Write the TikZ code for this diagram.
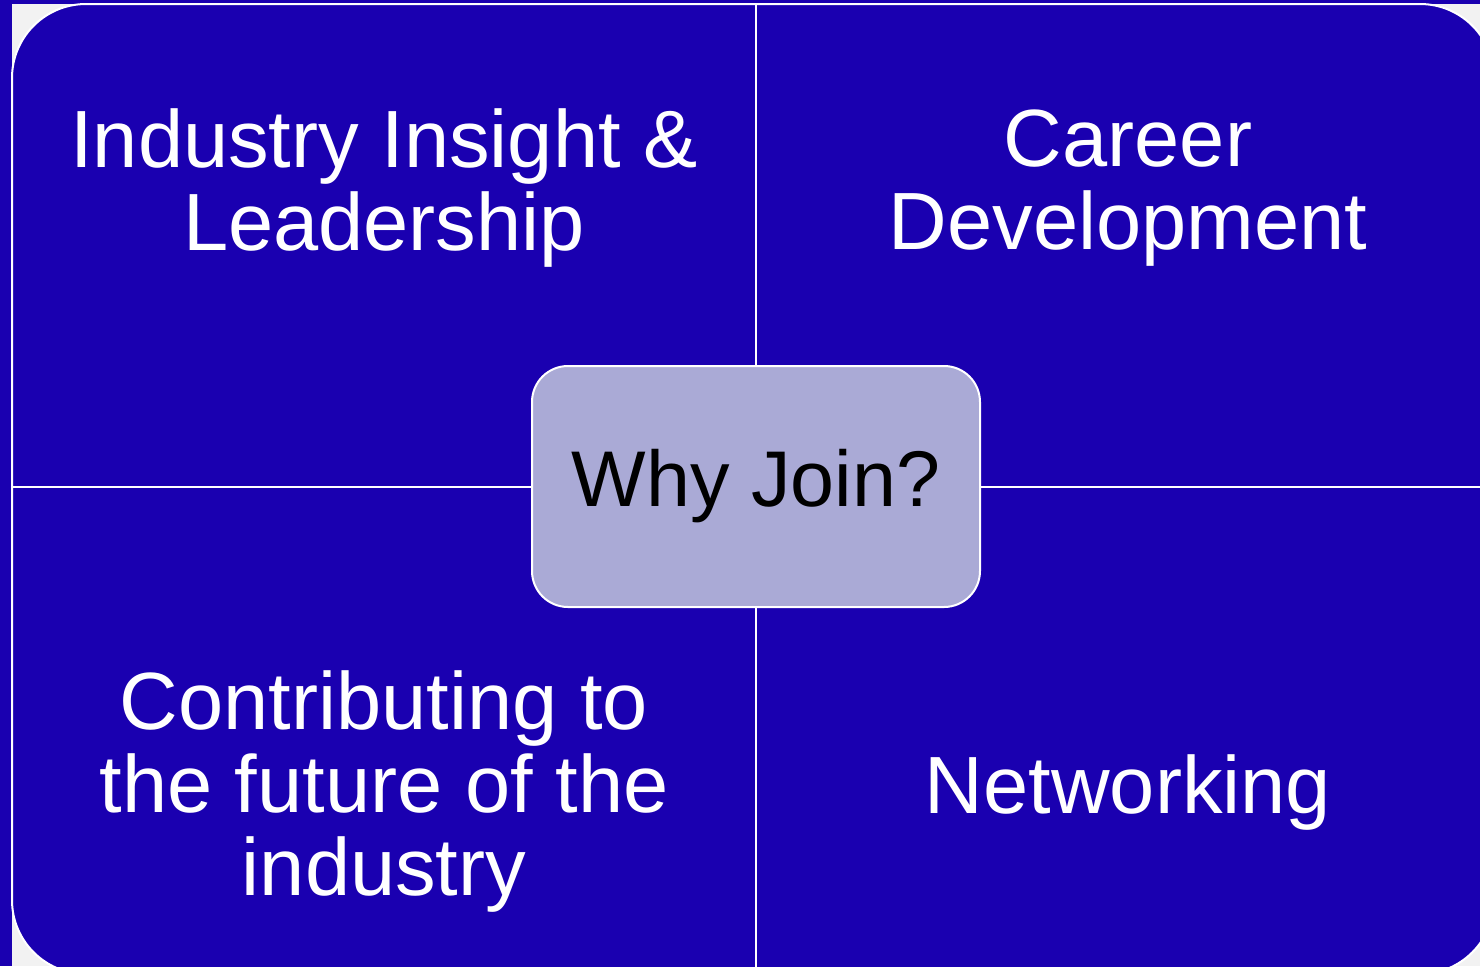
\documentclass[tikz,border=0pt]{standalone}
\usepackage{fontspec}
\setmainfont{Liberation Sans}
\usetikzlibrary{positioning}
\definecolor{joinblue}{RGB}{26,0,176}
\definecolor{joinlilac}{RGB}{170,170,214}
\definecolor{cornergray}{RGB}{242,242,242}
\tikzset{
  quadtext/.style={text=white, align=center, inner sep=0pt,
    font=\fontsize{40.6}{41.5}\selectfont},
  divider/.style={draw=white, line width=1pt},
  hub/.style={rounded corners=18pt, fill=joinlilac, draw=white, line width=1pt,
    minimum width=224pt, minimum height=120.5pt, text=black,
    font=\fontsize{39.5}{40}\selectfont}
}
\begin{document}
\begin{tikzpicture}[x=0.5pt, y=-0.5pt]
        \useasboundingbox (0,0) rectangle (1480,966);
        \clip (0,0) rectangle (1480,966);
        % background
        \fill[joinblue] (0,0) rectangle (1480,966);
        \fill[cornergray] (12,4) rectangle (1480,966);
        \filldraw[fill=joinblue, draw=white, line width=1pt, rounded corners=37pt]
            (12,4) rectangle (1494,974);
        % edge points of the dividers
        \coordinate (top) at (756,4);
        \coordinate (bottom) at (756,974);
        \coordinate (left) at (12,486.5);
        \coordinate (right) at (1494,486.5);
        % hub
        \node[hub] (why) at (756,486.5) {Why Join?};
        \draw[divider] (why.north) -- (top);
        \draw[divider] (why.south) -- (bottom);
        \draw[divider] (why.west) -- (left);
        \draw[divider] (why.east) -- (right);
        % quadrants
        \node[quadtext] (insight) at (384,188) {Industry Insight \&\\Leadership};
        \node[quadtext] (career) at (1128,188) {Career\\Development};
        \node[quadtext] (future) at (384,791) {Contributing to\\the future of the\\industry};
        \node[quadtext] (networking) at (1128,792) {Networking};
\end{tikzpicture}
\end{document}
